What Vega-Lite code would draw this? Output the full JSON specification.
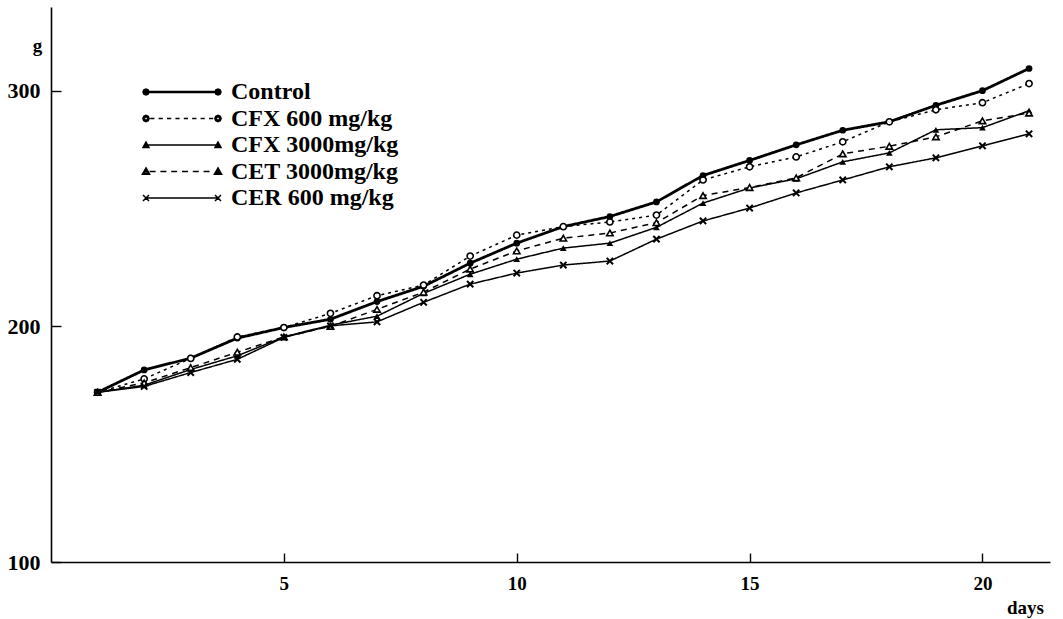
{
  "$schema": "https://vega.github.io/schema/vega-lite/v6.json",
  "width": 999,
  "height": 555,
  "autosize": {"type": "none"},
  "padding": {"left": 51, "top": 7, "right": 13, "bottom": 57},
  "background": "white",
  "config": {
    "view": {"stroke": null},
    "font": "Liberation Serif",
    "axis": {
      "grid": false,
      "domainColor": "black",
      "domainWidth": 1.6,
      "tickColor": "black",
      "tickWidth": 1.4,
      "labelColor": "black",
      "labelFont": "Liberation Serif",
      "titleColor": "black",
      "titleFont": "Liberation Serif"
    }
  },
  "data": {
    "values": [
      {"day": 1, "series": "Control", "g": 172},
      {"day": 2, "series": "Control", "g": 181.5},
      {"day": 3, "series": "Control", "g": 186.5},
      {"day": 4, "series": "Control", "g": 195},
      {"day": 5, "series": "Control", "g": 199.5},
      {"day": 6, "series": "Control", "g": 203},
      {"day": 7, "series": "Control", "g": 210.5},
      {"day": 8, "series": "Control", "g": 217},
      {"day": 9, "series": "Control", "g": 226.8},
      {"day": 10, "series": "Control", "g": 235.3},
      {"day": 11, "series": "Control", "g": 242.3},
      {"day": 12, "series": "Control", "g": 246.6},
      {"day": 13, "series": "Control", "g": 252.8},
      {"day": 14, "series": "Control", "g": 264},
      {"day": 15, "series": "Control", "g": 270.4},
      {"day": 16, "series": "Control", "g": 277},
      {"day": 17, "series": "Control", "g": 283.2},
      {"day": 18, "series": "Control", "g": 286.8},
      {"day": 19, "series": "Control", "g": 293.8},
      {"day": 20, "series": "Control", "g": 300},
      {"day": 21, "series": "Control", "g": 309.4},

      {"day": 1, "series": "CFX 600 mg/kg", "g": 172},
      {"day": 2, "series": "CFX 600 mg/kg", "g": 177.7},
      {"day": 3, "series": "CFX 600 mg/kg", "g": 186.4},
      {"day": 4, "series": "CFX 600 mg/kg", "g": 195.5},
      {"day": 5, "series": "CFX 600 mg/kg", "g": 199.5},
      {"day": 6, "series": "CFX 600 mg/kg", "g": 205.5},
      {"day": 7, "series": "CFX 600 mg/kg", "g": 213},
      {"day": 8, "series": "CFX 600 mg/kg", "g": 217.5},
      {"day": 9, "series": "CFX 600 mg/kg", "g": 229.8},
      {"day": 10, "series": "CFX 600 mg/kg", "g": 238.7},
      {"day": 11, "series": "CFX 600 mg/kg", "g": 242.3},
      {"day": 12, "series": "CFX 600 mg/kg", "g": 244.3},
      {"day": 13, "series": "CFX 600 mg/kg", "g": 247.2},
      {"day": 14, "series": "CFX 600 mg/kg", "g": 262.1},
      {"day": 15, "series": "CFX 600 mg/kg", "g": 267.7},
      {"day": 16, "series": "CFX 600 mg/kg", "g": 271.9},
      {"day": 17, "series": "CFX 600 mg/kg", "g": 278.3},
      {"day": 18, "series": "CFX 600 mg/kg", "g": 286.8},
      {"day": 19, "series": "CFX 600 mg/kg", "g": 291.9},
      {"day": 20, "series": "CFX 600 mg/kg", "g": 294.9},
      {"day": 21, "series": "CFX 600 mg/kg", "g": 303},

      {"day": 1, "series": "CFX 3000mg/kg", "g": 172},
      {"day": 2, "series": "CFX 3000mg/kg", "g": 175},
      {"day": 3, "series": "CFX 3000mg/kg", "g": 181.7},
      {"day": 4, "series": "CFX 3000mg/kg", "g": 187.5},
      {"day": 5, "series": "CFX 3000mg/kg", "g": 195.5},
      {"day": 6, "series": "CFX 3000mg/kg", "g": 200.5},
      {"day": 7, "series": "CFX 3000mg/kg", "g": 204.3},
      {"day": 8, "series": "CFX 3000mg/kg", "g": 214},
      {"day": 9, "series": "CFX 3000mg/kg", "g": 222.1},
      {"day": 10, "series": "CFX 3000mg/kg", "g": 228.5},
      {"day": 11, "series": "CFX 3000mg/kg", "g": 233.2},
      {"day": 12, "series": "CFX 3000mg/kg", "g": 235.3},
      {"day": 13, "series": "CFX 3000mg/kg", "g": 242},
      {"day": 14, "series": "CFX 3000mg/kg", "g": 252.3},
      {"day": 15, "series": "CFX 3000mg/kg", "g": 258.7},
      {"day": 16, "series": "CFX 3000mg/kg", "g": 262.6},
      {"day": 17, "series": "CFX 3000mg/kg", "g": 269.8},
      {"day": 18, "series": "CFX 3000mg/kg", "g": 273.6},
      {"day": 19, "series": "CFX 3000mg/kg", "g": 283.4},
      {"day": 20, "series": "CFX 3000mg/kg", "g": 284.3},
      {"day": 21, "series": "CFX 3000mg/kg", "g": 291.5},

      {"day": 1, "series": "CET 3000mg/kg", "g": 172},
      {"day": 2, "series": "CET 3000mg/kg", "g": 176},
      {"day": 3, "series": "CET 3000mg/kg", "g": 182.5},
      {"day": 4, "series": "CET 3000mg/kg", "g": 189},
      {"day": 5, "series": "CET 3000mg/kg", "g": 195.5},
      {"day": 6, "series": "CET 3000mg/kg", "g": 200},
      {"day": 7, "series": "CET 3000mg/kg", "g": 207.2},
      {"day": 8, "series": "CET 3000mg/kg", "g": 214.5},
      {"day": 9, "series": "CET 3000mg/kg", "g": 224.3},
      {"day": 10, "series": "CET 3000mg/kg", "g": 232},
      {"day": 11, "series": "CET 3000mg/kg", "g": 237.4},
      {"day": 12, "series": "CET 3000mg/kg", "g": 239.6},
      {"day": 13, "series": "CET 3000mg/kg", "g": 244},
      {"day": 14, "series": "CET 3000mg/kg", "g": 255.5},
      {"day": 15, "series": "CET 3000mg/kg", "g": 258.9},
      {"day": 16, "series": "CET 3000mg/kg", "g": 263},
      {"day": 17, "series": "CET 3000mg/kg", "g": 273.2},
      {"day": 18, "series": "CET 3000mg/kg", "g": 276.4},
      {"day": 19, "series": "CET 3000mg/kg", "g": 280.4},
      {"day": 20, "series": "CET 3000mg/kg", "g": 287.2},
      {"day": 21, "series": "CET 3000mg/kg", "g": 290.5},

      {"day": 1, "series": "CER 600 mg/kg", "g": 172},
      {"day": 2, "series": "CER 600 mg/kg", "g": 174.5},
      {"day": 3, "series": "CER 600 mg/kg", "g": 180.4},
      {"day": 4, "series": "CER 600 mg/kg", "g": 186},
      {"day": 5, "series": "CER 600 mg/kg", "g": 195.3},
      {"day": 6, "series": "CER 600 mg/kg", "g": 200.2},
      {"day": 7, "series": "CER 600 mg/kg", "g": 201.9},
      {"day": 8, "series": "CER 600 mg/kg", "g": 210.2},
      {"day": 9, "series": "CER 600 mg/kg", "g": 217.9},
      {"day": 10, "series": "CER 600 mg/kg", "g": 222.6},
      {"day": 11, "series": "CER 600 mg/kg", "g": 226},
      {"day": 12, "series": "CER 600 mg/kg", "g": 227.7},
      {"day": 13, "series": "CER 600 mg/kg", "g": 237},
      {"day": 14, "series": "CER 600 mg/kg", "g": 244.7},
      {"day": 15, "series": "CER 600 mg/kg", "g": 250.2},
      {"day": 16, "series": "CER 600 mg/kg", "g": 256.6},
      {"day": 17, "series": "CER 600 mg/kg", "g": 262.1},
      {"day": 18, "series": "CER 600 mg/kg", "g": 267.7},
      {"day": 19, "series": "CER 600 mg/kg", "g": 271.5},
      {"day": 20, "series": "CER 600 mg/kg", "g": 276.6},
      {"day": 21, "series": "CER 600 mg/kg", "g": 281.7}
    ]
  },
  "encoding": {
    "x": {
      "field": "day",
      "type": "quantitative",
      "scale": {"domain": [0, 21.45], "nice": false, "zero": false},
      "axis": {
        "values": [5, 10, 15, 20],
        "tickSize": -9,
        "labelPadding": 21,
        "labelFontSize": 19,
        "labelFontWeight": "bold",
        "title": "days",
        "titleFontSize": 19,
        "titleFontWeight": "bold",
        "titleX": 974,
        "titleY": 45,
        "titleAlign": "center",
        "titleBaseline": "middle"
      }
    },
    "y": {
      "field": "g",
      "type": "quantitative",
      "scale": {"domain": [100, 335.5], "nice": false, "zero": false},
      "axis": {
        "values": [100, 200, 300],
        "tickSize": -10,
        "labelPadding": 21,
        "labelFontSize": 22,
        "labelFontWeight": "bold",
        "title": "g",
        "titleAngle": 0,
        "titleX": -14,
        "titleY": 38,
        "titleAlign": "center",
        "titleBaseline": "middle",
        "titleFontWeight": "bold",
        "titleFontSize": 19
      }
    }
  },
  "layer": [
    {
      "mark": {"type": "line", "color": "black"},
      "encoding": {
        "detail": {"field": "series", "type": "nominal"},
        "strokeDash": {
          "condition": [
            {"test": "datum.series === 'CFX 600 mg/kg'", "value": [3, 4]},
            {"test": "datum.series === 'CET 3000mg/kg'", "value": [6, 5]}
          ],
          "value": [1, 0]
        },
        "strokeWidth": {
          "condition": {"test": "datum.series === 'Control'", "value": 2.8},
          "value": 1.5
        }
      }
    },
    {
      "transform": [{"filter": "datum.series === 'Control'"}],
      "mark": {"type": "point", "shape": "circle", "filled": true, "color": "black", "size": 45, "opacity": 1},
      "encoding": {}
    },
    {
      "transform": [{"filter": "datum.series === 'CFX 600 mg/kg'"}],
      "mark": {"type": "point", "shape": "circle", "fill": "white", "stroke": "black", "strokeWidth": 1.6, "size": 38, "opacity": 1},
      "encoding": {}
    },
    {
      "transform": [{"filter": "datum.series === 'CFX 3000mg/kg'"}],
      "mark": {"type": "point", "shape": "triangle-up", "filled": true, "color": "black", "size": 45, "opacity": 1},
      "encoding": {}
    },
    {
      "transform": [{"filter": "datum.series === 'CET 3000mg/kg'"}],
      "mark": {"type": "point", "shape": "triangle-up", "fill": "white", "stroke": "black", "strokeWidth": 1.6, "size": 42, "opacity": 1},
      "encoding": {}
    },
    {
      "transform": [{"filter": "datum.series === 'CER 600 mg/kg'"}],
      "mark": {"type": "point", "shape": "M-1,-1L1,1M-1,1L1,-1", "stroke": "black", "strokeWidth": 2, "size": 40, "opacity": 1},
      "encoding": {}
    },
    {
      "mark": {"type": "point", "filled": true, "fill": "black", "opacity": 0, "stroke": "black", "strokeWidth": 1.4},
      "encoding": {
        "shape": {
          "field": "series",
          "type": "nominal",
          "scale": {
            "domain": ["Control", "CFX 600 mg/kg", "CFX 3000mg/kg", "CET 3000mg/kg", "CER 600 mg/kg"],
            "range": [
              "M-12,-0.17L12,-0.17M-12,0.17L12,0.17M-11,0L-11.3,0.7L-12,1L-12.7,0.7L-13,0L-12.7,-0.7L-12,-1L-11.3,-0.7ZM13,0L12.7,0.7L12,1L11.3,0.7L11,0L11.3,-0.7L12,-1L12.7,-0.7Z",
              "M-10.6,0L-9.2,0M-7.8,0L-6.4,0M-5,0L-3.6,0M-2.2,0L-0.8,0M0.6,0L2,0M3.4,0L4.8,0M6.2,0L7.6,0M9,0L10.4,0M-10.95,0L-11.26,0.74L-12,1.05L-12.74,0.74L-13.05,0L-12.74,-0.74L-12,-1.05L-11.26,-0.74ZM-11.45,0L-11.61,-0.39L-12,-0.55L-12.39,-0.39L-12.55,0L-12.39,0.39L-12,0.55L-11.61,0.39ZM13.05,0L12.74,0.74L12,1.05L11.26,0.74L10.95,0L11.26,-0.74L12,-1.05L12.74,-0.74ZM12.55,0L12.39,-0.39L12,-0.55L11.61,-0.39L11.45,0L11.61,0.39L12,0.55L12.39,0.39Z",
              "M-12,0L12,0M-12,-1L-11,0.8L-13,0.8ZM12,-1L13,0.8L11,0.8Z",
              "M-10.8,0L-8.8,0M-7.2,0L-5.2,0M-3.6,0L-1.6,0M0,0L2,0M3.6,0L5.6,0M7.2,0L9.2,0M-12,-1.2L-10.8,0.9L-13.2,0.9ZM-12,-0.5L-12.6,0.55L-11.4,0.55ZM12,-1.2L13.2,0.9L10.8,0.9Z",
              "M-12,0L12,0M-13,-1L-11,1M-13,1L-11,-1M11,-1L13,1M11,1L13,-1"
            ]
          },
          "legend": {
            "title": null,
            "orient": "none",
            "legendX": 119,
            "legendY": 73,
            "padding": 0,
            "symbolSize": 36,
            "labelOffset": 37,
            "labelLimit": 0,
            "labelFont": "Liberation Serif",
            "labelFontSize": 24,
            "labelFontWeight": "bold",
            "labelColor": "black",
            "rowPadding": 2.5,
            "symbolOpacity": 1
          }
        }
      }
    }
  ]
}
